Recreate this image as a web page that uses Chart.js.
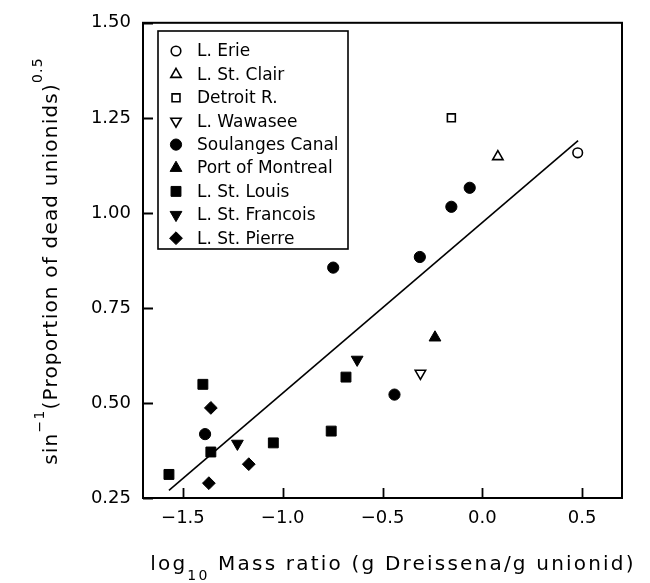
<!DOCTYPE html>
<html>
<head>
<meta charset="utf-8">
<script src="https://cdn.jsdelivr.net/npm/chart.js@4.4.1/dist/chart.umd.min.js"></script>
<style>
  html, body { margin: 0; padding: 0; background: #fff; }
  #wrap { width: 650px; height: 583px; }
</style>
</head>
<body>
<div id="wrap"><canvas id="massChart" width="650" height="583"></canvas></div>
<script>
// values
const erieX = [0.478];
const erieY = [1.158];
const stClairX = [0.078];
const stClairY = [1.148];
const detroitX = [-0.155];
const detroitY = [1.25];
const wawaseeX = [-0.31];
const wawaseeY = [0.578];
const soulangesX = [-1.389, -0.747, -0.44, -0.313, -0.155, -0.063];
const soulangesY = [0.418, 0.856, 0.522, 0.884, 1.016, 1.066];
const montrealX = [-0.237];
const montrealY = [0.672];
const stLouisX = [-1.57, -1.40, -1.36, -1.047, -0.757, -0.683];
const stLouisY = [0.312, 0.549, 0.371, 0.395, 0.426, 0.568];
const stFrancoisX = [-1.227, -0.627];
const stFrancoisY = [0.393, 0.614];
const stPierreX = [-1.37, -1.36, -1.17];
const stPierreY = [0.289, 0.487, 0.339];
const fitX = [-1.57, 0.48];
const fitY = [0.27, 1.19];

const xTicks = [-1.5, -1.0, -0.5, 0.0, 0.5];
const yTicks = [0.25, 0.50, 0.75, 1.00, 1.25, 1.50];

const FONT = '"DejaVu Sans", sans-serif';

function pts(xs, ys) { return xs.map((x, i) => ({ x: x, y: ys[i] })); }

function site(label, xs, ys, style, filled, radius, rotation) {
    return {
        label: label,
        data: pts(xs, ys),
        pointStyle: style,
        rotation: rotation || 0,
        pointRadius: radius,
        pointHoverRadius: radius,
        backgroundColor: filled ? '#000' : '#fff',
        borderColor: '#000',
        borderWidth: filled ? 1 : 1.6,
        showLine: false
    };
}

const datasets = [
    site('L. Erie', erieX, erieY, 'circle', false, 4.8),
    site('L. St. Clair', stClairX, stClairY, 'triangle', false, 6),
    site('Detroit R.', detroitX, detroitY, 'rect', false, 5.6),
    site('L. Wawasee', wawaseeX, wawaseeY, 'triangle', false, 6, 180),
    site('Soulanges Canal', soulangesX, soulangesY, 'circle', true, 5.6),
    site('Port of Montreal', montrealX, montrealY, 'triangle', true, 6.8),
    site('L. St. Louis', stLouisX, stLouisY, 'rect', true, 7),
    site('L. St. Francois', stFrancoisX, stFrancoisY, 'triangle', true, 6.8, 180),
    site('L. St. Pierre', stPierreX, stPierreY, 'rectRot', true, 6.4),
    {
        label: 'fit',
        type: 'line',
        data: pts(fitX, fitY),
        borderColor: '#000',
        borderWidth: 1.6,
        pointRadius: 0,
        fill: false,
        tension: 0
    }
];

// frame, inward ticks, legend box, axis titles with super/subscripts
const decorPlugin = {
    id: 'decor',
    afterDraw(chart) {
        const ctx = chart.ctx;
        const a = chart.chartArea;
        const xs = chart.scales.x, ys = chart.scales.y;
        ctx.save();
        ctx.strokeStyle = '#000';
        ctx.lineWidth = 2;
        ctx.strokeRect(a.left, a.top, a.right - a.left, a.bottom - a.top);

        ctx.lineWidth = 1.8;
        ctx.beginPath();
        xTicks.forEach(v => {
            const px = Math.round(xs.getPixelForValue(v)) + 0.5;
            ctx.moveTo(px, a.bottom); ctx.lineTo(px, a.bottom - 10);
        });
        yTicks.forEach(v => {
            const py = Math.round(ys.getPixelForValue(v)) + 0.5;
            ctx.moveTo(a.left, py); ctx.lineTo(a.left + 10, py);
        });
        ctx.stroke();

        // legend
        const lx = 158, ly = 31, lw = 190, lh = 218;
        ctx.lineWidth = 1.6;
        ctx.fillStyle = '#fff';
        ctx.fillRect(lx, ly, lw, lh);
        ctx.strokeRect(lx, ly, lw, lh);
        ctx.font = '17px ' + FONT;
        ctx.textBaseline = 'middle';
        ctx.textAlign = 'left';
        datasets.filter(d => d.label !== 'fit').forEach((d, i) => {
            const cy = 51 + i * 23.4;
            ctx.fillStyle = d.backgroundColor;
            ctx.strokeStyle = d.borderColor;
            ctx.lineWidth = d.borderWidth;
            Chart.helpers.drawPoint(ctx, {
                pointStyle: d.pointStyle,
                rotation: d.rotation,
                radius: d.pointRadius,
                borderWidth: d.borderWidth
            }, 176, cy);
            ctx.fillStyle = '#000';
            ctx.fillText(d.label, 197, cy + 1);
        });

        // axis titles
        const main = '20px ' + FONT, small = '14px ' + FONT;
        const drawRich = (parts, cx, baseY) => {
            let total = 0;
            parts.forEach(p => { ctx.font = p.font; p.w = ctx.measureText(p.text).width; total += p.w; });
            let x = cx - total / 2;
            ctx.fillStyle = '#000';
            ctx.textBaseline = 'alphabetic';
            ctx.textAlign = 'left';
            parts.forEach(p => { ctx.font = p.font; ctx.fillText(p.text, x, baseY + p.dy); x += p.w; });
        };
        ctx.letterSpacing = '2.2px';
        drawRich([
            { text: 'log', font: main, dy: 0 },
            { text: '10', font: small, dy: 10 },
            { text: ' Mass ratio (g Dreissena/g unionid)', font: main, dy: 0 }
        ], 393, 570);

        ctx.letterSpacing = '1.2px';
        ctx.translate(57, 261);
        ctx.rotate(-Math.PI / 2);
        drawRich([
            { text: 'sin', font: main, dy: 0 },
            { text: '\u22121', font: small, dy: -13 },
            { text: '(Proportion of dead unionids)', font: main, dy: 0 },
            { text: '0.5', font: small, dy: -15 }
        ], 0, 0);
        ctx.restore();
    }
};

new Chart(document.getElementById('massChart'), {
    type: 'scatter',
    data: { datasets: datasets },
    options: {
        responsive: false,
        animation: false,
        devicePixelRatio: 1,
        layout: { padding: { left: 0, top: 18, right: 28, bottom: 0 } },
        plugins: { legend: { display: false }, tooltip: { enabled: false } },
        scales: {
            x: {
                type: 'linear',
                min: -1.7,
                max: 0.7,
                afterBuildTicks: s => { s.ticks = xTicks.map(v => ({ value: v })); },
                afterFit: s => { s.height = 85; },
                grid: { display: false, drawTicks: false },
                border: { display: false },
                ticks: {
                    padding: 10,
                    color: '#000',
                    font: { family: FONT, size: 18 },
                    callback: v => v.toFixed(1).replace('-', '\u2212')
                }
            },
            y: {
                type: 'linear',
                min: 0.25,
                max: 1.5,
                afterBuildTicks: s => { s.ticks = yTicks.map(v => ({ value: v })); },
                afterFit: s => { s.width = 143; },
                grid: { display: false, drawTicks: false },
                border: { display: false },
                ticks: {
                    padding: 12,
                    color: '#000',
                    font: { family: FONT, size: 18 },
                    callback: v => v.toFixed(2)
                }
            }
        }
    },
    plugins: [decorPlugin]
});
</script>
</body>
</html>
